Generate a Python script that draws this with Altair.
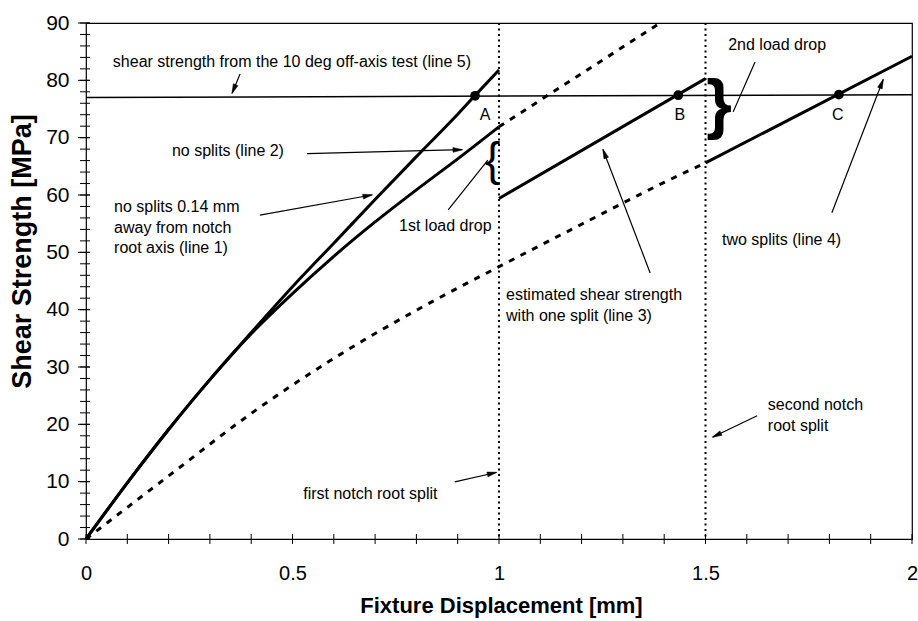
import math
import altair as alt
import pandas as pd

# ---------------- data ----------------
line1_x = [0, 0.1, 0.2, 0.3, 0.4, 0.5, 0.6, 0.7, 0.8, 0.9, 0.94, 1.0]
line1_y = [0, 9.8, 19.1, 27.8, 36.0, 44.0, 51.6, 59.2, 66.7, 74.1, 77.2, 81.8]
line2_x = [0, 0.1, 0.2, 0.3, 0.4, 0.5, 0.6, 0.7, 0.8, 0.9, 1.0]
line2_y = [0, 9.8, 19.1, 27.8, 35.8, 42.8, 49.3, 55.3, 60.9, 66.3, 71.9]
line3_x = [1.0, 1.5]
line3_y = [59.4, 80.3]
line4_x = [1.5, 2.0]
line4_y = [65.6, 84.2]
dash_low_x = [0, 0.2, 0.4, 0.6, 0.8, 1.0, 1.2, 1.4, 1.5]
dash_low_y = [0, 11.0, 21.9, 31.5, 39.9, 47.5, 54.9, 62.2, 65.6]
dash_up_x = [1.0, 1.39]
dash_up_y = [71.9, 90.0]
line5_x = [0, 2.0]
line5_y = [77.0, 77.5]
split_x = [1.0, 1.5]

point_labels = ["A", "B", "C"]
point_x = [0.942, 1.434, 1.823]
point_y = [77.3, 77.4, 77.5]
label_y = [73.9, 73.9, 73.9]
label_x = [0.966, 1.438, 1.82]

x_tick_labels = [0, 0.5, 1, 1.5, 2]
y_tick_labels = [0, 10, 20, 30, 40, 50, 60, 70, 80, 90]
x_minor = [i / 10 for i in range(21)]
y_minor = list(range(0, 91, 2))

note_text = [
    "shear strength from the 10 deg off-axis test (line 5)",
    "no splits (line 2)",
    "no splits 0.14 mm",
    "away from notch",
    "root axis (line 1)",
    "1st load drop",
    "2nd load drop",
    "estimated shear strength",
    "with one split (line 3)",
    "two splits (line 4)",
    "first notch root split",
    "second notch",
    "root split",
]
note_x = [0.065, 0.208, 0.068, 0.068, 0.068, 0.758, 1.555, 1.017, 1.017, 1.540, 0.526, 1.651, 1.651]
note_y = [83.2, 67.7, 57.9, 54.2, 50.8, 54.6, 86.2, 42.6, 38.9, 52.2, 7.8, 23.4, 19.7]

# arrows: start -> end, head flag
arr_x0 = [0.373, 0.535, 0.421, 0.877, 1.620, 1.366, 1.806, 0.893, 1.625]
arr_y0 = [81.1, 67.2, 56.5, 57.4, 83.2, 46.4, 56.9, 9.95, 21.5]
arr_x1 = [0.354, 0.910, 0.692, 0.973, 1.567, 1.252, 1.930, 0.993, 1.518]
arr_y1 = [77.8, 67.9, 60.0, 66.1, 74.5, 67.9, 80.1, 11.6, 17.8]
arr_head = [True, True, True, False, False, True, True, True, True]

brace_text = ["{", "}"]
brace_x = [0.985, 1.533]
brace_y = [66.0, 75.6]

# ---------------- layout ----------------
W, H = 826, 516
PXX = W / 2.0
PXY = H / 90.0
FONT = "Liberation Sans"

xs = alt.Scale(domain=[0, 2], nice=False)
ys = alt.Scale(domain=[0, 90], nice=False)

x_axis = alt.Axis(
    values=x_tick_labels, format="~g", title="Fixture Displacement [mm]",
    titleFontSize=22, titleFontWeight="bold", titleX=415, titleY=66,
    titleBaseline="middle", labelFontSize=20, labelPadding=24, labelFlush=False,
    grid=False, ticks=False, domain=False)
y_axis = alt.Axis(
    values=y_tick_labels, title="Shear Strength [MPa]",
    titleFontSize=27, titleFontWeight="bold", titleX=-63.5, titleY=228,
    titleBaseline="middle", titleAngle=270, labelFontSize=21, labelPadding=17,
    grid=False, ticks=False, domain=False)


def curve_df(names, xss, yss):
    rows = []
    for n, xx, yy in zip(names, xss, yss):
        for i, (a, b) in enumerate(zip(xx, yy)):
            rows.append({"series": n, "x": a, "y": b, "o": i})
    return pd.DataFrame(rows)


solid = curve_df(["l1", "l2", "l3", "l4"],
                 [line1_x, line2_x, line3_x, line4_x],
                 [line1_y, line2_y, line3_y, line4_y])
dashed = curve_df(["dl", "du"], [dash_low_x, dash_up_x], [dash_low_y, dash_up_y])
thin = curve_df(["l5"], [line5_x], [line5_y])


def X(f="x"):
    return alt.X(f"{f}:Q", scale=xs, axis=x_axis)


def Y(f="y"):
    return alt.Y(f"{f}:Q", scale=ys, axis=y_axis)


ytick_minor = alt.Chart(pd.DataFrame({"y": y_minor})).mark_rule(color="black", strokeWidth=1).encode(
    y=Y(), x=alt.value(-6), x2=alt.value(4))
ytick_major = alt.Chart(pd.DataFrame({"y": y_tick_labels})).mark_rule(color="black", strokeWidth=1).encode(
    y=Y(), x=alt.value(-8), x2=alt.value(4))
xtick = alt.Chart(pd.DataFrame({"x": x_minor})).mark_rule(color="black", strokeWidth=1).encode(
    x=X(), y=alt.value(H - 5), y2=alt.value(H + 5))

splits = alt.Chart(pd.DataFrame({"x": split_x})).mark_rule(
    color="black", strokeWidth=2, strokeDash=[2, 3.5]).encode(
    x=X(), y=alt.value(0), y2=alt.value(H))

solid_layer = alt.Chart(solid).mark_line(color="black", strokeWidth=3, interpolate="monotone").encode(
    x=X(), y=Y(), detail="series:N", order="o:Q")
dashed_layer = alt.Chart(dashed).mark_line(color="black", strokeWidth=3, strokeDash=[6, 7],
                                           interpolate="monotone").encode(
    x=X(), y=Y(), detail="series:N", order="o:Q")
thin_layer = alt.Chart(thin).mark_line(color="black", strokeWidth=1.5).encode(
    x=X(), y=Y(), detail="series:N", order="o:Q")

pts = pd.DataFrame({"x": point_x, "y": point_y})
pts_layer = alt.Chart(pts).mark_circle(color="black", size=95, opacity=1).encode(x=X(), y=Y())

lbl = pd.DataFrame({"x": label_x, "y": label_y, "t": point_labels})
lbl_layer = alt.Chart(lbl).mark_text(font=FONT, fontSize=16, color="black").encode(
    x=X(), y=Y(), text="t:N")

notes = pd.DataFrame({"x": note_x, "y": note_y, "t": note_text})
notes_layer = alt.Chart(notes).mark_text(font=FONT, fontSize=16, color="black",
                                         align="left", baseline="middle").encode(
    x=X(), y=Y(), text="t:N")

arrows = pd.DataFrame({"x": arr_x0, "y": arr_y0, "x1": arr_x1, "y1": arr_y1})
arrow_lines = alt.Chart(arrows).mark_rule(color="black", strokeWidth=1.2).encode(
    x=X(), y=Y(), x2="x1:Q", y2="y1:Q")

heads = []
for a, b, c, d, h in zip(arr_x0, arr_y0, arr_x1, arr_y1, arr_head):
    if not h:
        continue
    dxp = (c - a) * PXX
    dyp = -(d - b) * PXY
    L = math.hypot(dxp, dyp)
    ang = math.degrees(math.atan2(dxp, -dyp)) % 360
    back = 4.5
    hx = c - (dxp / L) * back / PXX
    hy = d + (dyp / L) * back / PXY
    heads.append({"x": hx, "y": hy, "ang": ang})
heads_layer = alt.Chart(pd.DataFrame(heads)).mark_point(
    shape="M0,-1.1L0.5,0.9L-0.5,0.9Z", filled=True, fill="black", stroke="black", strokeWidth=0.5,
    size=95, opacity=1).encode(
    x=X(), y=Y(), angle=alt.Angle("ang:Q", scale=None))

braces = pd.DataFrame({"x": brace_x, "y": brace_y, "t": brace_text})
brace_l = alt.Chart(braces.iloc[[0]]).mark_text(font=FONT, fontSize=46, color="black",
                                               baseline="middle").encode(x=X(), y=Y(), text="t:N")
brace_r = alt.Chart(braces.iloc[[1]]).mark_text(font=FONT, fontSize=66, fontWeight="bold",
                                               color="black", baseline="middle").encode(x=X(), y=Y(), text="t:N")

chart = alt.layer(
    ytick_minor, ytick_major, xtick, splits, thin_layer, dashed_layer,
    solid_layer, pts_layer, lbl_layer, notes_layer, arrow_lines, heads_layer, brace_l, brace_r
).properties(
    width=W, height=H,
    padding={"left": 86, "top": 23, "right": 6, "bottom": 82},
    autosize=alt.AutoSizeParams(type="none"),
).configure_view(
    stroke="black", strokeWidth=1.2
).configure_axis(
    labelFont=FONT, titleFont=FONT, labelColor="black", titleColor="black"
)

chart.save("out.html", embed_options={"renderer": "svg", "actions": False})
